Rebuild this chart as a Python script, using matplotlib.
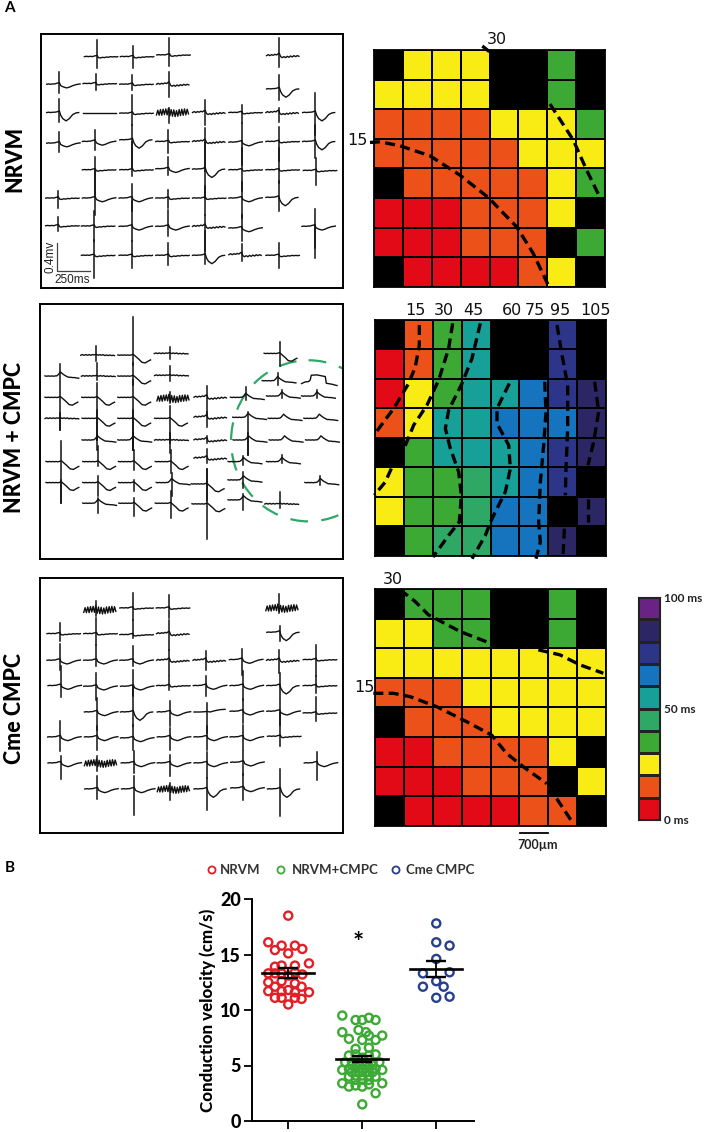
import matplotlib
matplotlib.use('Agg')
import matplotlib.pyplot as plt
from matplotlib.colors import ListedColormap
from matplotlib.patches import Ellipse
import numpy as np

W, H = 709, 1132
plt.rcParams['font.family'] = ['Lato', 'DejaVu Sans']

# --- trace shapes: offsets from spike position and baseline (zoomed picture units) ---
SHAPES = {
    'flat': ([-38, -32, -26, -20, -14, -8, -3, 0, 4, 10, 16, 22, 28, 34, 40, 46, 52, 58, 62],
             [0, -1, 0, -1, 0, -2, -3, -4, 3, 4, 2, 3, 1, 2, 0, 1, 0, 1, 0]),
    'dip': ([-38, -32, -26, -20, -14, -8, -3, 0, 4, 12, 22, 32, 38, 44, 50, 56, 62],
            [0, -1, 0, -1, -1, -3, -4, -5, 4, 8, 11, 8, 5, 3, 1, 0, -1]),
    'deep': ([-38, -32, -26, -20, -14, -8, 0, 4, 10, 20, 30, 40, 50, 58],
             [0, -1, 0, -1, -1, -2, -5, 8, 18, 25, 18, 6, 1, 0]),
    'rise': ([-38, -20, -4, 0, 10, 25, 40, 55],
             [0, 0, -1, -2, 0, -4, -7, -8]),
    'ripple': ([-38, -33, -28, -23, -18, -13, -8, -3, 0, 4, 9, 14, 19, 24, 29, 34, 39, 44, 49, 54, 59],
               [0, -3, 0, -3, -1, -4, -2, -6, -7, 3, 6, 3, 6, 2, 5, 1, 4, 0, 3, 0, 2]),
    'noisy': ([-38, -34, -30, -26, -22, -18, -14, -10, -6, -2, 2, 6, 10, 14, 18, 22, 26, 30, 34, 38, 42, 46, 50, 54, 58],
              [8, -6, 9, -8, 9, -9, 7, -10, 8, -12, 11, -8, 12, -7, 13, -5, 12, -8, 10, -9, 9, -10, 8, -9, 5]),
    'line': ([-38, 62], [0, 0]),
    'none': ([0], [0]),
    'hump': ([-46, -41, -36, -31, -26, -21, -16, -11, -6, 0, 8, 16, 24, 30, 36, 42, 48, 55],
             [0, 1, 0, 1, 0, 1, 0, 0, -4, -12, -5, 0, 4, 4, 5, 5, 6, 7]),
    'late': ([-46, -41, -36, -31, -26, -21, -16, -11, -6, 0, 8, 16, 26, 36, 46, 52],
             [0, 1, 0, 1, 0, 1, 0, 1, 0, -2, 5, 12, 22, 24, 18, 15]),
    'wavy': ([-46, -41, -36, -31, -26, -21, -16, -11, -6, 0, 6, 11, 16, 21, 26, 31, 36, 41, 46, 51, 55],
             [1, -1, 1, -1, 1, -1, 1, -1, 0, -2, 1, -1, 1, -1, 2, 0, 2, 0, 2, 1, 2]),
    'plateau': ([-46, -35, -25, -20, -17, 0, 25, 28, 45, 60],
                [6, 1, 0, -5, -19, -20, -15, 5, 8, 12]),
}

# --- electrode traces: spike x, baseline y, spike top, spike bottom, shape ---
TRACES_NRVM = [
    (201, 95, 45, 128, 'flat'), (309, 95, 62, 128, 'flat'), (418, 90, 40, 122, 'flat'), (747, 92, 40, 125, 'ripple'),
    (88, 178, 140, 203, 'dip'), (197, 176, 148, 195, 'flat'), (307, 178, 150, 195, 'flat'), (417, 178, 140, 215, 'ripple'), (747, 192, 150, 225, 'deep'),
    (88, 263, 222, 292, 'deep'), (197, 263, 263, 263, 'line'), (307, 265, 210, 300, 'flat'), (417, 262, 248, 295, 'noisy'),
    (525, 263, 225, 300, 'ripple'), (634, 263, 240, 295, 'flat'), (745, 263, 250, 292, 'ripple'), (855, 263, 205, 330, 'deep'),
    (88, 355, 320, 382, 'dip'), (195, 350, 315, 375, 'dip'), (307, 345, 300, 430, 'deep'), (415, 350, 315, 385, 'flat'),
    (525, 350, 310, 440, 'ripple'), (634, 352, 295, 420, 'dip'), (745, 350, 305, 410, 'flat'), (855, 350, 300, 400, 'deep'),
    (195, 435, 395, 510, 'flat'), (307, 435, 350, 455, 'flat'), (415, 432, 395, 450, 'dip'), (525, 433, 350, 520, 'deep'),
    (634, 435, 370, 500, 'flat'), (745, 435, 370, 475, 'flat'), (857, 437, 400, 482, 'flat'),
    (85, 520, 500, 550, 'flat'), (195, 520, 440, 570, 'dip'), (305, 520, 478, 560, 'dip'), (415, 520, 495, 550, 'flat'),
    (525, 520, 485, 570, 'flat'), (634, 520, 473, 580, 'dip'), (745, 518, 470, 560, 'deep'),
    (85, 603, 578, 620, 'flat'), (192, 604, 560, 650, 'flat'), (305, 605, 530, 650, 'dip'), (415, 605, 555, 635, 'dip'),
    (525, 605, 570, 680, 'ripple'), (634, 610, 570, 650, 'dip'), (853, 605, 552, 670, 'dip'),
    (192, 692, 645, 760, 'flat'), (305, 692, 650, 730, 'flat'), (415, 692, 655, 720, 'flat'), (525, 692, 620, 718, 'deep'),
    (634, 690, 658, 710, 'ripple'), (745, 692, 655, 730, 'flat'), (855, 640, 600, 700, 'none'),
]
TRACES_MIXED = [
    (199, 165, 137, 182, 'wavy'), (310, 165, 52, 195, 'late'), (419, 160, 140, 178, 'wavy'), (748, 160, 125, 198, 'late'),
    (92, 228, 193, 390, 'hump'), (201, 228, 190, 240, 'wavy'), (310, 228, 190, 255, 'late'), (420, 226, 198, 243, 'wavy'),
    (742, 242, 220, 255, 'hump'), (860, 245, 245, 245, 'plateau'),
    (92, 292, 292, 292, 'late'), (202, 292, 250, 420, 'late'), (310, 292, 240, 450, 'late'), (419, 295, 275, 310, 'noisy'),
    (530, 292, 258, 345, 'ripple'), (647, 292, 262, 300, 'hump'), (755, 288, 270, 295, 'hump'), (860, 288, 270, 295, 'hump'),
    (92, 355, 340, 390, 'wavy'), (203, 355, 330, 420, 'late'), (310, 355, 330, 450, 'late'), (420, 355, 318, 430, 'late'),
    (530, 352, 335, 380, 'ripple'), (654, 352, 335, 465, 'hump'), (760, 355, 355, 355, 'hump'), (867, 355, 355, 355, 'hump'),
    (203, 420, 405, 450, 'hump'), (310, 420, 400, 450, 'hump'), (420, 420, 400, 460, 'wavy'), (530, 420, 410, 430, 'ripple'),
    (655, 420, 400, 465, 'hump'), (763, 420, 420, 420, 'hump'), (872, 420, 420, 420, 'hump'),
    (95, 485, 425, 610, 'late'), (205, 485, 440, 500, 'late'), (312, 485, 450, 510, 'late'), (422, 485, 450, 520, 'late'),
    (530, 475, 447, 490, 'ripple'), (640, 485, 470, 495, 'hump'), (755, 485, 465, 490, 'hump'),
    (95, 548, 540, 610, 'late'), (205, 548, 530, 590, 'late'), (312, 548, 540, 575, 'late'), (425, 548, 520, 590, 'hump'),
    (530, 552, 508, 600, 'late'), (640, 540, 518, 565, 'hump'), (870, 548, 530, 555, 'hump'),
    (205, 610, 595, 640, 'hump'), (313, 610, 595, 648, 'late'), (422, 610, 575, 655, 'late'), (532, 612, 508, 718, 'late'),
    (640, 600, 582, 630, 'hump'), (750, 612, 578, 625, 'wavy'),
]
TRACES_CME = [
    (200, 120, 95, 140, 'noisy'), (308, 115, 70, 150, 'flat'), (417, 115, 75, 145, 'flat'), (745, 115, 72, 130, 'noisy'),
    (90, 192, 160, 215, 'flat'), (200, 192, 145, 225, 'flat'), (308, 195, 150, 205, 'flat'), (418, 192, 150, 240, 'ripple'), (748, 188, 170, 215, 'deep'),
    (90, 272, 222, 300, 'dip'), (200, 272, 225, 290, 'dip'), (308, 272, 230, 290, 'dip'), (418, 272, 240, 315, 'ripple'),
    (527, 272, 245, 300, 'ripple'), (636, 270, 238, 315, 'dip'), (747, 272, 240, 310, 'ripple'), (857, 270, 225, 320, 'flat'),
    (93, 348, 290, 382, 'dip'), (200, 350, 310, 390, 'dip'), (310, 350, 300, 380, 'dip'), (418, 348, 320, 360, 'flat'),
    (528, 348, 320, 380, 'dip'), (638, 348, 305, 390, 'dip'), (748, 348, 310, 385, 'deep'), (857, 348, 320, 370, 'flat'),
    (202, 427, 385, 480, 'dip'), (310, 427, 350, 470, 'deep'), (420, 427, 395, 470, 'dip'), (530, 427, 400, 490, 'rise'),
    (638, 425, 388, 460, 'dip'), (748, 425, 388, 465, 'dip'), (857, 430, 382, 455, 'flat'),
    (92, 502, 453, 545, 'dip'), (202, 502, 470, 540, 'dip'), (310, 505, 465, 540, 'dip'), (420, 502, 475, 540, 'dip'),
    (530, 502, 470, 540, 'dip'), (638, 502, 465, 540, 'dip'), (750, 500, 430, 530, 'flat'),
    (93, 580, 560, 628, 'dip'), (202, 580, 558, 605, 'noisy'), (312, 580, 545, 610, 'dip'), (420, 580, 555, 618, 'dip'),
    (530, 580, 548, 625, 'dip'), (640, 578, 543, 615, 'dip'), (860, 580, 548, 632, 'dip'),
    (203, 658, 618, 688, 'dip'), (313, 658, 620, 735, 'dip'), (420, 658, 640, 690, 'noisy'), (530, 658, 625, 720, 'deep'),
    (640, 655, 612, 692, 'dip'), (750, 658, 598, 738, 'deep'),
]

# --- activation maps: -1 is a black (dead) electrode, others index into MAP_COLORS ---
MAP_COLORS = ['#E30A17', '#EB5119', '#F9EB14', '#3CA935', '#2FA866',
              '#17A097', '#1673BE', '#2D3589', '#2D2664', '#6A2384']
MAP_NRVM = [
    [-1, 2, 2, 2, -1, -1, 3, -1],
    [2, 2, 2, 2, -1, -1, 3, -1],
    [1, 1, 1, 1, 2, 2, 2, 3],
    [1, 1, 1, 1, 1, 2, 2, 2],
    [-1, 1, 1, 1, 1, 1, 2, 3],
    [0, 0, 0, 1, 1, 1, 2, -1],
    [0, 0, 0, 1, 1, 1, -1, 3],
    [-1, 0, 0, 0, 0, 1, 2, -1],
]
MAP_MIXED = [
    [-1, 1, 3, 5, -1, -1, 7, -1],
    [0, 1, 3, 5, -1, -1, 7, -1],
    [0, 2, 3, 5, 5, 6, 7, 8],
    [1, 2, 5, 5, 6, 6, 6, 8],
    [-1, 3, 5, 5, 5, 6, 7, 8],
    [2, 3, 3, 4, 5, 6, 7, -1],
    [2, 3, 3, 4, 6, 6, -1, 8],
    [-1, 3, 4, 4, 6, 6, 8, -1],
]
MAP_CME = [
    [-1, 3, 3, 3, -1, -1, 3, -1],
    [2, 2, 3, 3, -1, -1, 3, -1],
    [2, 2, 2, 2, 2, 2, 2, 2],
    [1, 1, 1, 2, 2, 2, 2, 2],
    [-1, 1, 1, 1, 2, 2, 2, 2],
    [0, 0, 1, 1, 1, 1, 2, -1],
    [0, 0, 0, 1, 1, 1, -1, 2],
    [-1, 0, 0, 0, 0, 1, 1, -1],
]

# --- isochrones, in the same zoomed units as the map limits below ---
ISO_NRVM = [
    [(367, 78), (388, 95)],
    [(30, 367), (60, 365), (120, 377), (210, 407), (300, 465), (385, 532), (470, 620), (520, 700), (565, 795)],
    [(570, 252), (640, 360), (680, 450), (718, 528)],
]
ISO_MIXED = [
    [(177, 90), (177, 150), (165, 215), (145, 265), (100, 340), (48, 410)],
    [(93, 520), (75, 560), (42, 600)],
    [(277, 85), (265, 160), (235, 255), (200, 330), (160, 390), (132, 458)],
    [(360, 85), (335, 190), (305, 265), (265, 345), (255, 400), (270, 460), (295, 530), (303, 600), (297, 680), (265, 720), (218, 785)],
    [(447, 265), (410, 340), (410, 385), (445, 450), (450, 520), (435, 590), (395, 670), (375, 720), (335, 790)],
    [(553, 260), (557, 350), (550, 450), (540, 560), (535, 680), (540, 740), (527, 790)],
    [(590, 90), (605, 180), (622, 270), (622, 400), (617, 520), (615, 600)],
    [(612, 700), (608, 785)],
    [(703, 260), (715, 350), (700, 440), (683, 510)],
    [(683, 610), (683, 680)],
]
ISO_CME = [
    [(120, 75), (165, 110), (205, 150), (300, 200), (390, 235)],
    [(535, 255), (600, 270), (660, 300), (730, 325)],
    [(40, 385), (100, 385), (150, 395), (230, 425), (320, 470), (395, 510), (440, 565), (490, 605), (560, 655)],
    [(590, 700), (640, 775)],
]
ISO_LABELS_NRVM = [('30', 410, 60), ('15', -8, 362)]
ISO_LABELS_MIXED = [('15', 165, 47), ('30', 252, 47), ('45', 338, 47), ('60', 455, 47),
                    ('75', 525, 47), ('95', 600, 47), ('105', 707, 47)]
ISO_LABELS_CME = [('30', 100, 45), ('15', 12, 367)]

# --- conduction velocity ---
GROUPS = ['NRVM', 'NRVM+CMPC', 'Cme CMPC']
GROUP_COLORS = ['#E31E26', '#3CAA35', '#263F8F']
LEGEND_MARK_X = [212, 281, 396]
LEGEND_TEXT_X = [220, 292, 406]
NRVM_X = [1.0, 0.73, 0.91, 1.09, 1.19, 0.82, 1.0, 1.28, 0.82, 0.91, 1.09, 0.73, 0.82, 0.91, 1.0, 1.09, 1.19,
          0.73, 0.91, 1.09, 0.82, 1.0, 1.18, 0.73, 1.28, 0.91, 1.09, 0.82, 0.91, 1.09, 1.18, 1.0]
NRVM_Y = [18.5, 16.1, 15.8, 15.8, 15.5, 15.4, 15.1, 14.2, 13.9, 14.0, 14.0, 13.3, 13.3, 13.3, 13.1, 13.4, 13.2,
          12.5, 12.6, 12.4, 12.1, 11.8, 12.1, 11.7, 11.6, 11.7, 11.6, 11.1, 11.1, 11.1, 11.0, 10.5]
MIXED_X = [1.73, 1.91, 2.0, 2.09, 2.18, 1.73, 1.95, 2.05, 1.82, 2.0, 2.18, 2.27, 2.09, 1.91, 2.09,
           1.82, 1.91, 2.0, 2.09, 2.18, 1.77, 1.86, 1.95, 2.05, 2.14, 2.23,
           1.73, 1.82, 1.91, 2.0, 2.09, 2.18, 2.27, 1.82, 1.91, 2.0, 2.09, 2.18,
           1.73, 2.27, 1.82, 1.91, 2.0, 2.09, 2.18, 2.0,
           1.86, 1.95, 2.05, 2.14, 1.95, 2.05, 1.86, 2.14, 2.0, 1.91, 2.09]
MIXED_Y = [9.5, 9.1, 9.1, 9.3, 9.1, 8.0, 8.2, 8.0, 7.4, 7.3, 7.3, 7.7, 7.7, 6.5, 6.6,
           5.9, 6.0, 5.7, 5.9, 6.0, 5.3, 5.3, 5.3, 5.3, 5.3, 5.3,
           4.6, 4.7, 4.9, 4.7, 4.9, 4.7, 4.6, 4.0, 4.1, 4.1, 4.1, 4.0,
           3.4, 3.4, 3.1, 3.2, 3.1, 3.3, 2.5, 1.5,
           4.4, 4.4, 4.4, 4.4, 5.0, 5.0, 5.0, 5.0, 3.7, 3.7, 3.7]
CME_X = [3.0, 3.0, 3.18, 3.0, 2.82, 3.18, 3.0, 2.82, 3.1, 3.0, 3.18]
CME_Y = [17.8, 16.1, 15.8, 14.6, 13.3, 13.4, 12.6, 12.1, 12.1, 11.1, 11.2]
MEANS = [13.35, 5.6, 13.7]
ERRS = [0.45, 0.3, 0.7]


def axes_px(left, top, right, bottom):
    return fig.add_axes([left / W, 1 - bottom / H, (right - left) / W, (bottom - top) / H])


def draw_traces(box, xlim, ylim, traces):
    ax = axes_px(*box)
    ax.set_xlim(*xlim)
    ax.set_ylim(*ylim)
    ax.set_xticks([])
    ax.set_yticks([])
    for s in ax.spines.values():
        s.set_linewidth(1.4)
    for x, base, top, bottom, shape in traces:
        dx, dy = SHAPES[shape]
        ax.plot(x + np.array(dx), base + np.array(dy), color='#111111', lw=1.0)
        if top != bottom:
            ax.plot([x, x], [top, bottom], color='#111111', lw=1.1)
    return ax


def draw_map(box, xlim, ylim, grid, lines, labels):
    ax = axes_px(*box)
    ax.set_facecolor('black')
    cmap = ListedColormap(MAP_COLORS)
    data = np.ma.masked_less(np.array(grid), 0)
    ax.pcolormesh(np.linspace(*xlim, 9), np.linspace(ylim[1], ylim[0], 9), data, cmap=cmap, vmin=-0.5, vmax=9.5,
                  edgecolors='black', linewidth=1.4)
    ax.set_xlim(*xlim)
    ax.set_ylim(*ylim)
    ax.set_xticks([])
    ax.set_yticks([])
    for s in ax.spines.values():
        s.set_linewidth(1.3)
    for line in lines:
        xs, ys = zip(*line)
        ax.plot(xs, ys, color='black', lw=2.4, ls=(0, (3, 1.6)), clip_on=False)
    for text, x, y in labels:
        ax.text(x, y, text, fontsize=11.5, ha='center', va='center', family='DejaVu Sans', color='#111111', clip_on=False)
    return ax


fig = plt.figure(figsize=(W / 100, H / 100), dpi=100)

# Panel A: traces
ax_nrvm = draw_traces((41, 34, 343, 288), (33, 938), (790, 27), TRACES_NRVM)
ax_mix = draw_traces((40, 304, 343, 559), (31, 938), (778, 12), TRACES_MIXED)
draw_traces((40, 578, 343, 833), (31, 938), (790, 25), TRACES_CME)

ax_mix.add_patch(Ellipse((835, 423), 464, 484, fill=False, ec='#2FA866', lw=1.6, ls=(0, (8, 6))))

# scale bar in the first trace box
ax_nrvm.plot([82, 82, 180], [655, 740, 740], color='#444444', lw=0.9)
ax_nrvm.text(60, 698, '0.4mv', rotation=90, fontsize=8.5, ha='center', va='center', family='Liberation Sans', color='#222222')
ax_nrvm.text(125, 765, '250ms', fontsize=8.5, ha='center', va='center', family='Liberation Sans', color='#222222')

# row labels
fig.text(15 / W, 1 - 159 / H, 'NRVM', rotation=90, fontsize=15.5, fontweight=900, ha='center', va='center')
fig.text(15 / W, 1 - 437 / H, 'NRVM + CMPC', rotation=90, fontsize=15.5, fontweight=900, ha='center', va='center')
fig.text(15 / W, 1 - 708 / H, 'Cme CMPC', rotation=90, fontsize=15.5, fontweight=900, ha='center', va='center')
fig.text(9 / W, 1 - 8 / H, 'A', fontsize=11, fontweight='bold', ha='center', va='center')
fig.text(10 / W, 1 - 868 / H, 'B', fontsize=11, fontweight='bold', ha='center', va='center')

# Panel A: maps
draw_map((374, 50, 605, 287), (42, 735), (800, 90), MAP_NRVM, ISO_NRVM, ISO_LABELS_NRVM)
draw_map((375, 320, 606, 556), (44, 737), (782, 75), MAP_MIXED, ISO_MIXED, ISO_LABELS_MIXED)
ax_cme = draw_map((375, 589, 606, 826), (45, 738), (782, 73), MAP_CME, ISO_CME, ISO_LABELS_CME)
ax_cme.plot([480, 565], [803, 803], color='black', lw=1.3, clip_on=False)
ax_cme.text(532, 838, '700µm', fontsize=9, fontweight='bold', ha='center', va='center', color='#222222', clip_on=False)

# colour scale
ax_bar = axes_px(638, 597, 660, 820)
ax_bar.pcolormesh([0, 1], np.linspace(0, 100, 11), np.arange(10).reshape(-1, 1), cmap=ListedColormap(MAP_COLORS),
                  vmin=-0.5, vmax=9.5, edgecolors='#222222', linewidth=1.0)
ax_bar.set_xticks([])
ax_bar.set_yticks([0, 50, 100])
ax_bar.set_yticklabels(['0 ms', '50 ms', '100 ms'], fontsize=8.5, fontweight='bold', color='#222222')
ax_bar.yaxis.tick_right()
ax_bar.tick_params(axis='y', length=0, pad=3)
for s in ax_bar.spines.values():
    s.set_color('#222222')

# Panel B: scatter
ax = axes_px(252, 899, 474, 1121)
for xs, ys, color in zip([NRVM_X, MIXED_X, CME_X], [NRVM_Y, MIXED_Y, CME_Y], GROUP_COLORS):
    ax.scatter(xs, ys, s=34, facecolors='none', edgecolors=color, linewidths=1.7, clip_on=False)
for i, (m, e) in enumerate(zip(MEANS, ERRS)):
    pos = i + 1
    ax.plot([pos - 0.35, pos + 0.35], [m, m], color='black', lw=1.9)
    ax.errorbar([pos], [m], yerr=[e], color='black', lw=1.3, capsize=7, capthick=1.7)
ax.text(1.94, 16.0, '*', fontsize=19, fontweight='bold', ha='center', va='center')
ax.set_xlim(0.51, 3.51)
ax.set_ylim(0, 20)
ax.set_xticks([1, 2, 3])
ax.set_xticklabels([])
ax.set_yticks([0, 5, 10, 15, 20])
ax.set_yticklabels(['0', '5', '10', '15', '20'], fontsize=13, fontweight=900)
ax.set_ylabel('Conduction velocity (cm/s)', fontsize=12.2, fontweight=900, labelpad=3)
ax.tick_params(width=1.3, length=6, pad=2)
ax.spines['top'].set_visible(False)
ax.spines['right'].set_visible(False)
ax.spines['left'].set_linewidth(1.4)
ax.spines['bottom'].set_linewidth(1.4)

# legend row
ax_leg = axes_px(200, 860, 500, 880)
ax_leg.set_xlim(200, 500)
ax_leg.set_ylim(0, 1)
ax_leg.axis('off')
for mx, tx, name, color in zip(LEGEND_MARK_X, LEGEND_TEXT_X, GROUPS, GROUP_COLORS):
    ax_leg.scatter([mx], [0.5], s=26, facecolors='none', edgecolors=color, linewidths=1.3)
    ax_leg.text(tx, 0.5, name, fontsize=9.5, fontweight='bold', color='#333333', ha='left', va='center')

fig.savefig('out.png', dpi=100)
